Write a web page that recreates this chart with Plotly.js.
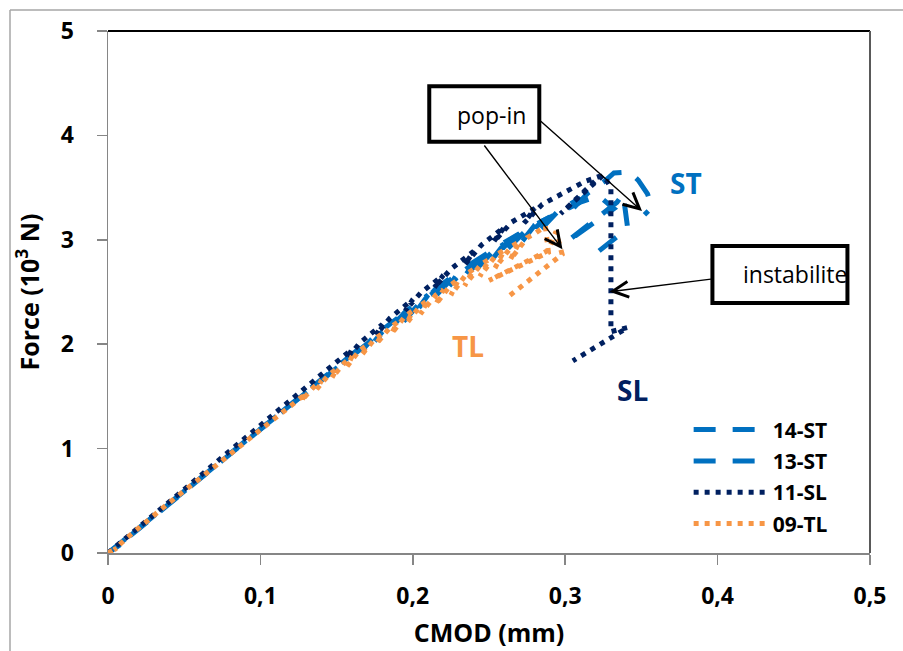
<!DOCTYPE html>
<html>
<head>
<meta charset="utf-8">
<script src="https://cdn.plot.ly/plotly-3.0.1.min.js"></script>
<style>html,body{margin:0;padding:0;background:#fff;}#chart{width:903px;height:651px;}</style>
</head>
<body>
<div id="chart"></div>
<script>
// ---- data (CMOD in mm, Force in 10^3 N) ----
const seriesNames = ["14-ST", "13-ST", "11-SL", "09-TL"];

const st14_x = [0, 0.008, 0.005, 0.02, 0.05, 0.08, 0.11, 0.14, 0.17, 0.166, 0.175, 0.19, 0.185, 0.195, 0.21, 0.204, 0.215, 0.23, 0.224, 0.235, 0.25, 0.243, 0.255, 0.27, 0.262, 0.275, 0.29, 0.282, 0.295, 0.31, 0.302, 0.315, 0.325, 0.332, 0.342, 0.348, 0.354, 0.357, 0.352];
const st14_y = [0, 0.08, 0.05, 0.23, 0.59, 0.95, 1.31, 1.66, 2.02, 1.93, 2.08, 2.25, 2.14, 2.31, 2.47, 2.35, 2.53, 2.69, 2.56, 2.74, 2.88, 2.74, 2.93, 3.06, 2.91, 3.10, 3.22, 3.07, 3.27, 3.40, 3.25, 3.45, 3.55, 3.64, 3.65, 3.57, 3.44, 3.31, 3.24];

const st13_x = [0, 0.03, 0.06, 0.09, 0.12, 0.15, 0.18, 0.175, 0.185, 0.20, 0.194, 0.205, 0.22, 0.213, 0.225, 0.24, 0.233, 0.245, 0.26, 0.252, 0.265, 0.28, 0.272, 0.285, 0.30, 0.31, 0.322, 0.332, 0.301, 0.334, 0.338, 0.341, 0.315];
const st13_y = [0, 0.35, 0.71, 1.07, 1.42, 1.77, 2.12, 2.03, 2.18, 2.34, 2.22, 2.40, 2.56, 2.43, 2.62, 2.77, 2.63, 2.82, 2.96, 2.81, 3.01, 3.14, 2.99, 3.18, 3.29, 3.36, 3.42, 3.30, 2.98, 3.36, 3.44, 3.11, 2.81];

const sl11_x = [0, 0.02, 0.05, 0.08, 0.11, 0.14, 0.16, 0.157, 0.165, 0.18, 0.176, 0.185, 0.20, 0.195, 0.205, 0.22, 0.214, 0.225, 0.24, 0.234, 0.245, 0.26, 0.253, 0.265, 0.28, 0.273, 0.285, 0.30, 0.313, 0.323, 0.297, 0.325, 0.330, 0.330, 0.341, 0.305];
const sl11_y = [0, 0.25, 0.61, 0.98, 1.35, 1.71, 1.95, 1.86, 2.01, 2.19, 2.09, 2.25, 2.43, 2.32, 2.49, 2.66, 2.54, 2.72, 2.89, 2.76, 2.95, 3.12, 2.98, 3.17, 3.30, 3.16, 3.34, 3.46, 3.56, 3.61, 3.25, 3.62, 3.50, 2.12, 2.16, 1.84];

const tl09_x = [0, 0.006, 0.004, 0.012, 0.02, 0.04, 0.06, 0.08, 0.10, 0.12, 0.13, 0.127, 0.135, 0.14, 0.137, 0.145, 0.15, 0.147, 0.155, 0.16, 0.157, 0.165, 0.17, 0.166, 0.175, 0.18, 0.176, 0.185, 0.19, 0.186, 0.195, 0.20, 0.196, 0.205, 0.21, 0.205, 0.215, 0.22, 0.215, 0.225, 0.23, 0.225, 0.235, 0.24, 0.234, 0.245, 0.25, 0.244, 0.255, 0.26, 0.254, 0.265, 0.27, 0.264, 0.275, 0.28, 0.287, 0.289, 0.250, 0.289, 0.294, 0.298, 0.263];
const tl09_y = [0, 0.05, 0.03, 0.14, 0.24, 0.48, 0.71, 0.95, 1.18, 1.41, 1.53, 1.46, 1.59, 1.65, 1.57, 1.71, 1.76, 1.68, 1.82, 1.88, 1.79, 1.94, 1.99, 1.89, 2.05, 2.10, 2.00, 2.16, 2.21, 2.10, 2.27, 2.32, 2.20, 2.37, 2.42, 2.29, 2.47, 2.52, 2.38, 2.57, 2.62, 2.47, 2.67, 2.72, 2.56, 2.77, 2.81, 2.65, 2.86, 2.90, 2.73, 2.94, 2.98, 2.81, 3.02, 3.06, 3.13, 2.88, 2.61, 2.90, 3.08, 2.86, 2.46];

const xTickVals = [0, 0.1, 0.2, 0.3, 0.4, 0.5];
const yTickVals = [0, 1, 2, 3, 4, 5];

// ---- styles ----
const BLUE = "#0070C0", NAVY = "#002060", ORANGE = "#F79646";
const FONT = "'Open Sans', 'Liberation Sans', sans-serif";

const traces = [
  {x: st14_x, y: st14_y, name: seriesNames[0], legendgroup: "a", line: {color: BLUE, width: 5, dash: "22px,17px"}},
  {x: st13_x, y: st13_y, name: seriesNames[1], legendgroup: "b", line: {color: BLUE, width: 5, dash: "22px,17px"}},
  {x: sl11_x, y: sl11_y, name: seriesNames[2], legendgroup: "c", line: {color: NAVY, width: 5, dash: "5px,6px"}},
  {x: tl09_x, y: tl09_y, name: seriesNames[3], legendgroup: "d", line: {color: ORANGE, width: 5, dash: "5px,6px"}}
].map(t => Object.assign({type: "scatter", mode: "lines", hoverinfo: "skip"}, t));

const axisCommon = {
  showline: true, linecolor: "#868686", linewidth: 1.5,
  ticks: "outside", ticklen: 10, tickwidth: 1.5, tickcolor: "#868686",
  showgrid: false, zeroline: false,
  tickfont: {family: FONT, size: 23, color: "#000", weight: "bold"}
};

const arrow = (x, y, ax, ay) => ({
  x: x, y: y, ax: ax, ay: ay, xref: "x", yref: "y", axref: "x", ayref: "y",
  text: "", showarrow: true, arrowhead: 5, arrowsize: 2.2, arrowwidth: 1.4, arrowcolor: "#000"
});

const layout = {
  width: 903, height: 651,
  margin: {l: 108, r: 33, t: 31, b: 98},
  paper_bgcolor: "#fff", plot_bgcolor: "#fff",
  separators: ",.",
  showlegend: true,
  legend: {x: 0.762, y: 0.275, xanchor: "left", yanchor: "top", bgcolor: "rgba(0,0,0,0)",
           itemwidth: 74, tracegroupgap: 1, font: {family: FONT, size: 21, color: "#000", weight: "bold"}},
  xaxis: Object.assign({}, axisCommon, {range: [0, 0.5], tickvals: xTickVals, ticklabelstandoff: 12,
    title: {text: "CMOD (mm)", font: {family: FONT, size: 25, color: "#000", weight: "bold"}, standoff: 14}}),
  yaxis: Object.assign({}, axisCommon, {range: [0, 5], tickvals: yTickVals, ticklabelstandoff: 18,
    title: {text: "Force (10<sup>3</sup> N)", font: {family: FONT, size: 25, color: "#000", weight: "bold"}, standoff: 14}}),
  shapes: [
    // outer chart frame (gray, partially visible)
    {type: "line", xref: "paper", yref: "paper", x0: -0.1286, x1: 1.2, y0: 1.0402, y1: 1.0402, line: {color: "#A6A6A6", width: 1.5}},
    {type: "line", xref: "paper", yref: "paper", x0: -0.1286, x1: -0.1286, y0: -0.3, y1: 1.0402, line: {color: "#A6A6A6", width: 1.5}},
    // plot area top / right border
    {type: "line", xref: "paper", yref: "paper", x0: 0, x1: 1, y0: 1, y1: 1, line: {color: "#000", width: 2}},
    {type: "line", xref: "paper", yref: "paper", x0: 1, x1: 1, y0: 0, y1: 1, line: {color: "#595959", width: 2}},
    // callout boxes
    {type: "rect", xref: "x", yref: "y", x0: 0.2108, x1: 0.2830, y0: 3.94, y1: 4.47, line: {color: "#000", width: 4}, fillcolor: "#fff"},
    {type: "rect", xref: "x", yref: "y", x0: 0.3966, x1: 0.4852, y0: 2.395, y1: 2.941, line: {color: "#000", width: 4}, fillcolor: "#fff"}
  ],
  annotations: [
    {x: 0.2515, y: 4.20, xref: "x", yref: "y", text: "pop-in", showarrow: false, font: {family: FONT, size: 23, color: "#000"}},
    {x: 0.4505, y: 2.67, xref: "x", yref: "y", text: "instabilite", showarrow: false, font: {family: FONT, size: 23, color: "#000"}},
    arrow(0.2982, 2.909, 0.2462, 3.918),
    arrow(0.3504, 3.276, 0.2830, 4.148),
    arrow(0.3290, 2.503, 0.3966, 2.625),
    {x: 0.379, y: 3.54, xref: "x", yref: "y", text: "ST", showarrow: false, font: {family: FONT, size: 28, color: BLUE, weight: "bold"}},
    {x: 0.236, y: 1.98, xref: "x", yref: "y", text: "TL", showarrow: false, font: {family: FONT, size: 28, color: ORANGE, weight: "bold"}},
    {x: 0.344, y: 1.56, xref: "x", yref: "y", text: "SL", showarrow: false, font: {family: FONT, size: 28, color: NAVY, weight: "bold"}}
  ]
};

Plotly.newPlot("chart", traces, layout, {displayModeBar: false, staticPlot: true});
</script>
</body>
</html>
